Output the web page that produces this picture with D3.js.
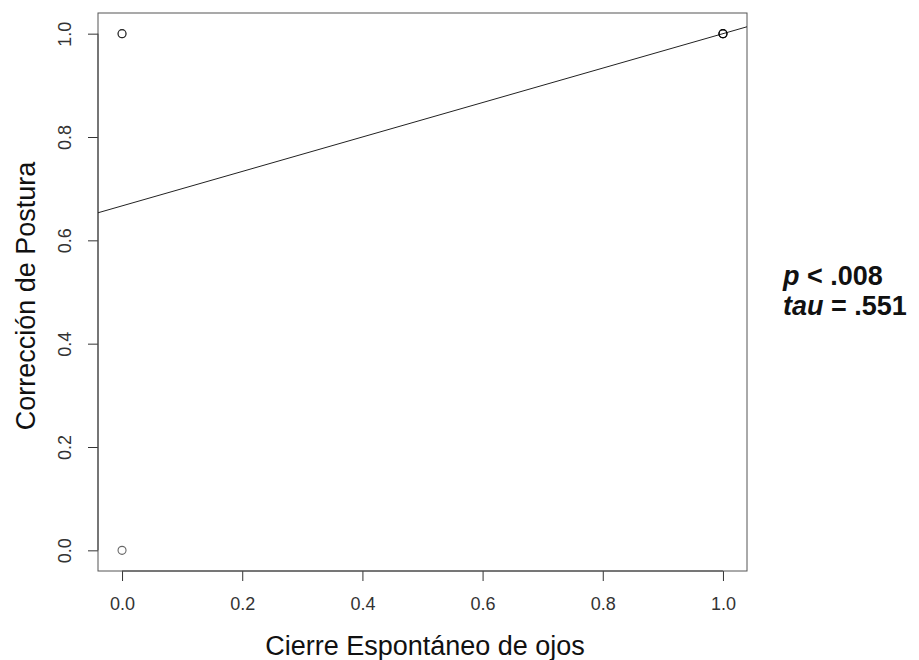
<!DOCTYPE html>
<html>
<head>
<meta charset="utf-8">
<script src="https://cdn.jsdelivr.net/npm/d3@7"></script>
<style>
  html, body { margin: 0; padding: 0; background: #fff; }
  svg { display: block; font-family: "Liberation Sans", Arial, Helvetica, sans-serif; }
</style>
</head>
<body>
<svg id="chart" width="919" height="660"></svg>
<script>
// Observations (binary scores); repeated pairs overlap on the plot
const cierreOjos = [0, 0, 0, 1, 1, 1, 1];
const correccionPostura = [0, 1, 1, 1, 1, 1, 1];

const xTicks = [0, 0.2, 0.4, 0.6, 0.8, 1.0];
const yTicks = [0, 0.2, 0.4, 0.6, 0.8, 1.0];
const xTitle = "Cierre Espontáneo de ojos";
const yTitle = "Corrección de Postura";
const statLines = [["p", " < .008"], ["tau", " = .551"]];

// Least-squares fit of postura on ojos
const n = cierreOjos.length;
const mx = d3.mean(cierreOjos), my = d3.mean(correccionPostura);
let sxy = 0, sxx = 0;
for (let i = 0; i < n; i++) {
  sxy += (cierreOjos[i] - mx) * (correccionPostura[i] - my);
  sxx += (cierreOjos[i] - mx) ** 2;
}
const slope = sxy / sxx;
const intercept = my - slope * mx;

const svg = d3.select("#chart");
const plot = { left: 98, right: 747, top: 13, bottom: 571 };

// Axis ranges padded by 4% on each side
const x = d3.scaleLinear().domain([-0.04, 1.04]).range([plot.left, plot.right]);
const y = d3.scaleLinear().domain([-0.04, 1.04]).range([plot.bottom, plot.top]);

const axisColor = "#333";
const labelColor = "#333";
const tickFont = 18;

// Bottom axis (spans first to last tick)
const gx = svg.append("g").attr("transform", `translate(0,${plot.bottom})`)
  .call(d3.axisBottom(x).tickValues(xTicks).tickFormat(d3.format(".1f")).tickSizeInner(10).tickSizeOuter(0).tickPadding(16));
gx.select(".domain").remove();
gx.append("line").attr("x1", x(xTicks[0])).attr("x2", x(xTicks[xTicks.length - 1]))
  .attr("stroke", axisColor);
gx.selectAll(".tick line").attr("stroke", axisColor);
gx.selectAll(".tick text").attr("fill", labelColor).attr("font-size", tickFont)
  .attr("font-family", "Liberation Sans, Arial, sans-serif");

// Left axis with rotated labels
const gy = svg.append("g").attr("transform", `translate(${plot.left},0)`)
  .call(d3.axisLeft(y).tickValues(yTicks).tickFormat(d3.format(".1f")).tickSizeInner(10).tickSizeOuter(0));
gy.select(".domain").remove();
gy.append("line").attr("y1", y(yTicks[0])).attr("y2", y(yTicks[yTicks.length - 1]))
  .attr("stroke", axisColor);
gy.selectAll(".tick line").attr("stroke", axisColor);
gy.selectAll(".tick text")
  .attr("fill", labelColor).attr("font-size", tickFont)
  .attr("font-family", "Liberation Sans, Arial, sans-serif")
  .attr("x", null)
  .attr("text-anchor", "middle")
  .attr("transform", "translate(-33,0) rotate(-90)")
  .attr("dy", "0.35em");

// Plot frame
svg.append("rect")
  .attr("x", plot.left).attr("y", plot.top)
  .attr("width", plot.right - plot.left).attr("height", plot.bottom - plot.top)
  .attr("fill", "none").attr("stroke", "#555").attr("stroke-width", 1);

// Regression line clipped to the plotting region
svg.append("clipPath").attr("id", "plotClip").append("rect")
  .attr("x", plot.left).attr("y", plot.top)
  .attr("width", plot.right - plot.left).attr("height", plot.bottom - plot.top);
const [x0, x1] = x.domain();
svg.append("line")
  .attr("clip-path", "url(#plotClip)")
  .attr("x1", x(x0)).attr("y1", y(intercept + slope * x0))
  .attr("x2", x(x1)).attr("y2", y(intercept + slope * x1))
  .attr("stroke", "#222").attr("stroke-width", 1);

// Open-circle points; overlapping ones render darker
svg.append("g").selectAll("circle")
  .data(d3.range(n))
  .join("circle")
  .attr("cx", i => x(cierreOjos[i]))
  .attr("cy", i => y(correccionPostura[i]))
  .attr("r", 4)
  .attr("fill", "none")
  .attr("stroke", "#000")
  .attr("stroke-width", 1.1)
  .attr("stroke-opacity", 0.6);

// Axis titles
svg.append("text")
  .attr("x", 425).attr("y", 655)
  .attr("text-anchor", "middle").attr("font-size", 27).attr("fill", "#111")
  .text(xTitle);
svg.append("text")
  .attr("transform", `translate(35,296) rotate(-90)`)
  .attr("text-anchor", "middle").attr("font-size", 27).attr("fill", "#111")
  .text(yTitle);

// Test statistics
const stats = svg.append("g").attr("font-size", 27).attr("font-weight", "bold").attr("fill", "#111");
statLines.forEach((s, i) => {
  const t = stats.append("text").attr("x", 783).attr("y", 285 + i * 30);
  t.append("tspan").attr("font-style", "italic").text(s[0]);
  t.append("tspan").text(s[1]);
});
</script>
</body>
</html>
